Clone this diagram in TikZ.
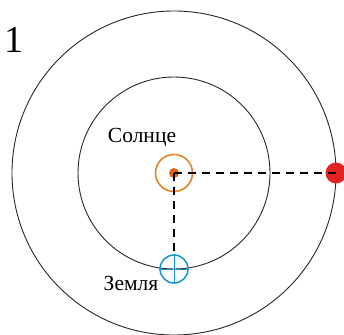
\documentclass[tikz,border=0pt]{standalone}
\usepackage{fontspec}
\setmainfont{Liberation Serif}
\definecolor{sunorange}{RGB}{230,130,40}
\definecolor{sundot}{RGB}{220,100,20}
\definecolor{earthblue}{RGB}{20,150,210}
\definecolor{planetred}{RGB}{225,35,35}
\definecolor{orbitgray}{RGB}{40,40,40}
\begin{document}
\begin{tikzpicture}[x=1pt,y=-1pt,
  orbit/.style={draw=orbitgray,line width=0.9pt},
  guide/.style={draw=black,line width=1.7pt,dash pattern=on 8pt off 6pt},
  lbl/.style={font=\fontsize{21.5}{21.5}\selectfont,inner sep=0pt}]
\useasboundingbox (0,0) rectangle (344,334);
\coordinate (S) at (174,173);
\draw[orbit] (S) circle[radius=162];
\draw[orbit] (S) circle[radius=96];
\node[circle,draw=sunorange,line width=1.6pt,minimum size=37pt,inner sep=0pt] (sun) at (S) {};
\node[circle,fill=sundot,minimum size=10pt,inner sep=0pt] (core) at (S) {};
\node[circle,draw=earthblue,line width=1.5pt,minimum size=28pt,inner sep=0pt] (earth) at (174,269) {};
\draw[earthblue,line width=0.9pt] (earth.north) -- (earth.south) (earth.west) -- (earth.east);
\node[circle,fill=planetred,minimum size=21pt,inner sep=0pt] (planet) at (336,173) {};
\draw[guide] (core.center) -- (planet.center);
\draw[guide] (core.center) -- (earth.north);
\node[lbl] (sunlbl) at (142,137) {Солнце};
\node[lbl] (earthlbl) at (131,283) {Земля};
\node[font=\fontsize{38}{38}\selectfont,inner sep=0pt] (num) at (14,40) {1};
\end{tikzpicture}
\end{document}
